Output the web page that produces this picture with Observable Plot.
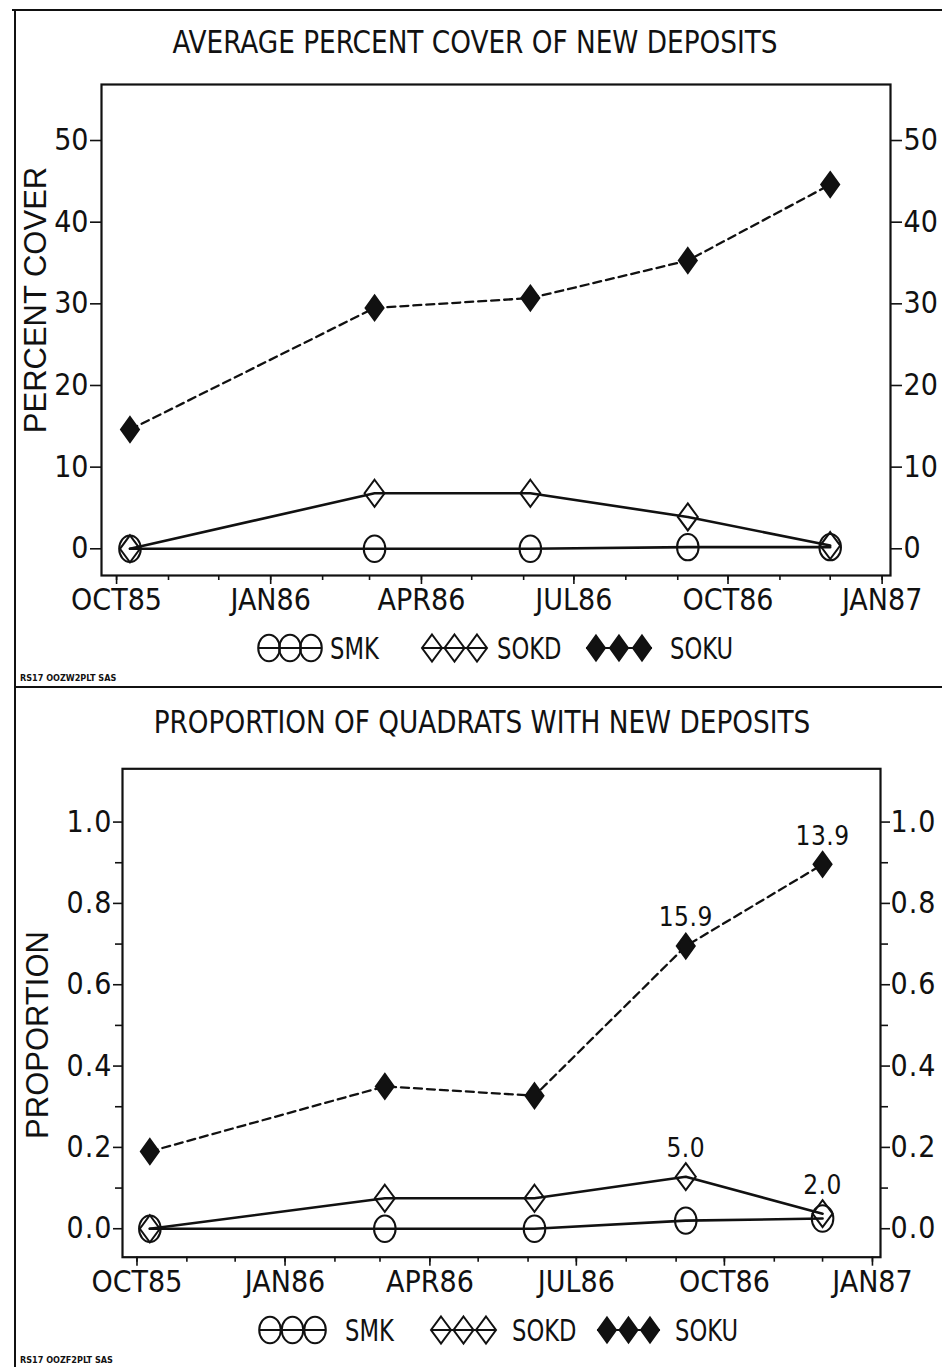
<!DOCTYPE html>
<html><head><meta charset="utf-8">
<script src="https://cdn.jsdelivr.net/npm/d3@7"></script>
<script src="https://cdn.jsdelivr.net/npm/@observablehq/plot@0.6"></script>
<style>
body{margin:0;background:#fff;}
#page{position:relative;width:942px;height:1367px;overflow:hidden;background:#fff;color:#111;font-family:'DejaVu Sans Condensed','DejaVu Sans',sans-serif;}
.line{position:absolute;background:#111;}
.title{position:absolute;width:950px;text-align:center;font-size:32px;letter-spacing:0px;line-height:40px;transform:scaleX(0.915);transform-origin:center;}
.ytitle{position:absolute;width:400px;height:40px;line-height:40px;text-align:center;font-family:'Liberation Sans',Arial,sans-serif;font-size:31px;transform:rotate(-90deg);}
.foot{position:absolute;left:20px;font-size:9px;font-weight:bold;font-family:'DejaVu Sans Condensed',sans-serif;}
</style></head><body><div id="page">
<div class="line" style="left:12px;top:9px;width:930px;height:2px"></div>
<div class="line" style="left:14px;top:9px;width:2px;height:1358px"></div>
<div class="line" style="left:14px;top:686px;width:928px;height:2px"></div>
<div class="title" style="left:0px;top:22px">AVERAGE PERCENT COVER OF NEW DEPOSITS</div>
<div class="title" style="left:7px;top:702px">PROPORTION OF QUADRATS WITH NEW DEPOSITS</div>
<div class="ytitle" style="left:-164px;top:280px">PERCENT COVER</div>
<div class="ytitle" style="left:-162px;top:1015px">PROPORTION</div>
<div class="foot" style="top:673px">RS17 OOZW2PLT SAS</div>
<div class="foot" style="top:1355px">RS17 OOZF2PLT SAS</div>
</div>
<script>
// ---- data ----
const sampleDates = ["1985-10-09","1986-03-04","1986-06-05","1986-09-07","1986-12-01"];
const series = ["SMK","SOKD","SOKU"];
const coverSMK  = [0, 0, 0, 0.2, 0.2];
const coverSOKD = [0, 6.8, 6.8, 3.9, 0.4];
const coverSOKU = [14.6, 29.5, 30.7, 35.3, 44.6];
const propSMK  = [0, 0, 0, 0.02, 0.025];
const propSOKD = [0, 0.075, 0.075, 0.128, 0.037];
const propSOKU = [0.19, 0.35, 0.327, 0.695, 0.896];
const propLabelsSMK  = [null, null, null, null, null];
const propLabelsSOKD = [null, null, null, "5.0", "2.0"];
const propLabelsSOKU = [null, null, null, "15.9", "13.9"];
const xTickDates  = ["1985-10-01","1986-01-01","1986-04-01","1986-07-01","1986-10-01","1987-01-01"];
const xTickLabels = ["OCT85","JAN86","APR86","JUL86","OCT86","JAN87"];
const coverTicks = [0, 10, 20, 30, 40, 50];
const coverTickLabels = ["0","10","20","30","40","50"];
const propTicks = [0, 0.2, 0.4, 0.6, 0.8, 1.0];
const propTickLabels = ["0.0","0.2","0.4","0.6","0.8","1.0"];
const propMinorTicks = [0.1, 0.3, 0.5, 0.7, 0.9];

// ---- setup ----
const FONT = "'DejaVu Sans Condensed','DejaVu Sans',sans-serif";
const INK = "#111";
const parse = d3.utcParse("%Y-%m-%d");
const xDomain = [parse("1985-09-22"), parse("1987-01-06")];
const monthTicks = d3.utcMonth.range(parse("1985-10-01"), parse("1987-01-02"));
const tickDates = xTickDates.map(parse);

const ellipseSym = {draw(ctx){ const rx=10.8, ry=13.2, k=0.5523;
  ctx.moveTo(rx,0); ctx.bezierCurveTo(rx,ry*k,rx*k,ry,0,ry); ctx.bezierCurveTo(-rx*k,ry,-rx,ry*k,-rx,0);
  ctx.bezierCurveTo(-rx,-ry*k,-rx*k,-ry,0,-ry); ctx.bezierCurveTo(rx*k,-ry,rx,-ry*k,rx,0); ctx.closePath(); }};
const diamondSym = {draw(ctx){ ctx.moveTo(0,-13.5); ctx.lineTo(10,0); ctx.lineTo(0,13.5); ctx.lineTo(-10,0); ctx.closePath(); }};
const solidDiamondSym = {draw(ctx){ ctx.moveTo(0,-12.5); ctx.lineTo(9,0); ctx.lineTo(0,12.5); ctx.lineTo(-9,0); ctx.closePath(); }};
const styles = {
  SMK:  {symbol: ellipseSym, fill: "none", dash: null, sw: 2.6},
  SOKD: {symbol: diamondSym, fill: "none", dash: null, sw: 2.6},
  SOKU: {symbol: solidDiamondSym, fill: INK, dash: "8,5", sw: 2.3}
};

function chart(cfg){
  const data = series.flatMap((s,i) => sampleDates.map((d,j) => ({
    series: s, date: parse(d), value: cfg.values[i][j], label: cfg.labels ? cfg.labels[i][j] : null
  })));
  const yfmt = d => cfg.yTickLabels[cfg.yTicks.indexOf(d)];
  const marks = [
    Plot.frame({stroke: INK, strokeWidth: 2.2}),
    Plot.axisX({ticks: monthTicks, tickSize: 5, tickFormat: () => "", strokeWidth: 1.6, label: null}),
    Plot.axisX({ticks: tickDates, tickSize: 9, tickPadding: cfg.xPad, strokeWidth: 1.6,
      tickFormat: d => xTickLabels[tickDates.findIndex(t => +t === +d)], fontSize: cfg.xFont, label: null}),
    Plot.axisY({anchor: "left", ticks: cfg.yTicks, tickSize: cfg.yTick, tickPadding: cfg.yPad, strokeWidth: 1.6, tickFormat: yfmt, fontSize: cfg.yFont, label: null}),
    Plot.axisY({anchor: "right", ticks: cfg.yTicks, tickSize: cfg.yTick, tickPadding: cfg.yPad, strokeWidth: 1.6, tickFormat: yfmt, fontSize: cfg.yFont, label: null})
  ];
  if (cfg.yMinor) {
    marks.push(Plot.axisY({anchor: "left", ticks: cfg.yMinor, tickSize: 7, tickFormat: () => "", strokeWidth: 1.6, label: null}));
    marks.push(Plot.axisY({anchor: "right", ticks: cfg.yMinor, tickSize: 7, tickFormat: () => "", strokeWidth: 1.6, label: null}));
  }
  for (const s of series) {
    const st = styles[s];
    const d = data.filter(r => r.series === s);
    marks.push(Plot.line(d, {x: "date", y: "value", stroke: INK, strokeWidth: st.sw, strokeDasharray: st.dash}));
  }
  for (const s of series) {
    const st = styles[s];
    const d = data.filter(r => r.series === s);
    marks.push(Plot.dot(d, {x: "date", y: "value", symbol: st.symbol, r: 10, fill: st.fill, stroke: INK, strokeWidth: 2}));
  }
  if (cfg.labels) {
    marks.push(Plot.text(data.filter(r => r.label), {x: "date", y: "value", text: "label", dy: -28, fontSize: 26, fill: INK, className: "ptlabel"}));
  }
  const svg = Plot.plot({
    width: 942, height: cfg.height,
    marginLeft: cfg.ml, marginRight: cfg.mr, marginTop: cfg.mt, marginBottom: cfg.mb,
    x: {type: "utc", domain: xDomain, label: null},
    y: {domain: cfg.yDomain, label: null},
    style: `font-family:${FONT};font-size:30px;color:${INK};background:transparent;overflow:visible;`,
    marks
  });
  d3.select(svg).selectAll('g[aria-label="y-axis tick label"] text').attr("letter-spacing", cfg.yLS);
  d3.select(svg).selectAll('g[aria-label="x-axis tick label"] text').attr("letter-spacing", cfg.xLS);
  d3.select(svg).selectAll('.ptlabel text').attr("letter-spacing", 0.5);
  svg.style.position = "absolute";
  svg.style.left = "0px";
  svg.style.top = cfg.top + "px";
  return svg;
}

function legend(top, xs){
  const svg = d3.create("svg").attr("width", 942).attr("height", 44)
    .style("position", "absolute").style("left", "0px").style("top", top + "px").style("overflow", "visible");
  const cy = 22;
  series.forEach((s, i) => {
    const st = styles[s];
    const [x0, gap, tx] = xs[i];
    svg.append("line").attr("x1", x0 - 10).attr("x2", x0 + 2*gap + 10).attr("y1", cy).attr("y2", cy)
      .attr("stroke", INK).attr("stroke-width", 2);
    for (let k = 0; k < 3; k++) {
      svg.append("path").attr("d", d3.symbol().type(st.symbol)()).attr("transform", `translate(${x0 + k*gap},${cy})`)
        .attr("fill", st.fill).attr("stroke", INK).attr("stroke-width", 2);
    }
    svg.append("text").attr("transform", `translate(${tx},${cy}) scale(0.84,1)`).attr("dy", "0.36em").attr("font-family", FONT)
      .attr("font-size", 30).attr("fill", INK).text(s);
  });
  return svg.node();
}

const page = document.getElementById("page");
page.appendChild(chart({
  top: 60, height: 580, ml: 101, mr: 52, mt: 24, mb: 65,
  values: [coverSMK, coverSOKD, coverSOKU],
  yDomain: [-3.27, 56.86], yTicks: coverTicks, yTickLabels: coverTickLabels,
  xFont: 30, yFont: 30, xPad: 4, xLS: 0, yLS: 0, yTick: 11, yPad: 2
}));
page.appendChild(chart({
  top: 745, height: 575, ml: 122, mr: 62, mt: 23.3, mb: 63.3,
  values: [propSMK, propSOKD, propSOKU],
  labels: [propLabelsSMK, propLabelsSOKD, propLabelsSOKU],
  yDomain: [-0.07, 1.131], yTicks: propTicks, yTickLabels: propTickLabels, yMinor: propMinorTicks,
  xFont: 30, yFont: 30, xPad: 4, xLS: 0, yLS: 1, yTick: 9, yPad: 1
}));
page.appendChild(legend(626, [[269, 21, 330], [432, 22.5, 497], [596, 23, 670]]));
page.appendChild(legend(1308, [[270, 22.5, 345], [441, 22.5, 512], [607, 21.5, 675]]));
</script></body></html>
